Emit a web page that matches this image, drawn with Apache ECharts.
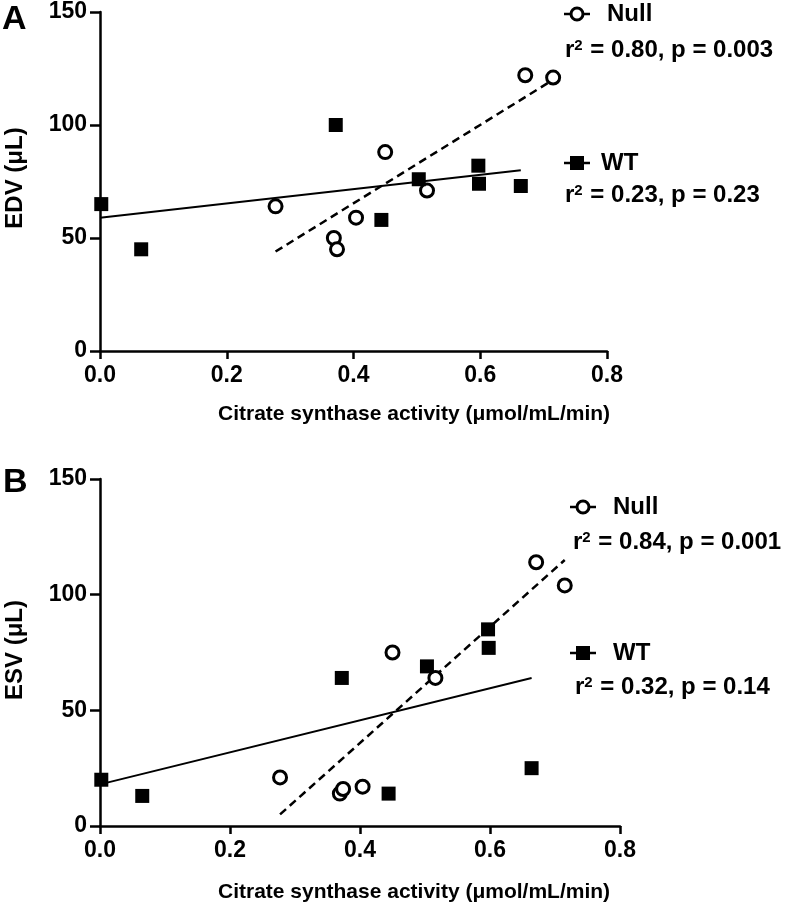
<!DOCTYPE html>
<html>
<head>
<meta charset="utf-8">
<script src="https://cdn.jsdelivr.net/npm/echarts@6/dist/echarts.min.js"></script>
<style>html,body{margin:0;padding:0;background:#fff}#c{width:792px;height:912px}</style>
</head>
<body>
<div id="c"></div>
<script>
// ---- data ----
const xTicks = [0, 0.2, 0.4, 0.6, 0.8];
const yTicks = [0, 50, 100, 150];
const nullX   = [0.277, 0.369, 0.374, 0.404, 0.450, 0.516, 0.671, 0.715];
const nullEDV = [64, 50, 45, 59, 88, 71, 122, 121];
const nullESV = [21, 14, 16, 17, 75, 64, 114, 104];
const wtX     = [0.002, 0.065, 0.372, 0.444, 0.503, 0.597, 0.598, 0.664];
const wtEDV   = [65, 45, 100, 58, 76, 82, 74, 73];
const wtESV   = [20, 13, 64, 14, 69, 85, 77, 25];
const nullFitEDV = [[0.277, 44], [0.715, 120]];
const wtFitEDV   = [[0.0, 59], [0.664, 80]];
const nullFitESV = [[0.277, 5], [0.715, 115]];
const wtFitESV   = [[0.0, 18], [0.664, 64]];
const statsA = { nul: ' = 0.80, p = 0.003', wt: ' = 0.23, p = 0.23' };
const statsB = { nul: ' = 0.84, p = 0.001', wt: ' = 0.32, p = 0.14' };

const FONT = '"Liberation Sans", Arial, sans-serif';
const zip = (xs, ys) => xs.map((x, i) => [x, ys[i]]);

function xAxis(g) {
  return {
    gridIndex: g, type: 'value', min: xTicks[0], max: xTicks[xTicks.length - 1], interval: 0.2,
    axisLine: { show: true, onZero: false, lineStyle: { color: '#000', width: 2.5 } },
    axisTick: { show: true, length: 8, lineStyle: { color: '#000', width: 2.5 } },
    axisLabel: { formatter: v => v.toFixed(1), fontSize: 23, fontWeight: 'bold', color: '#000', fontFamily: FONT, margin: 13 },
    splitLine: { show: false }
  };
}
function yAxis(g) {
  return {
    gridIndex: g, type: 'value', min: yTicks[0], max: yTicks[yTicks.length - 1], interval: 50,
    axisLine: { show: true, lineStyle: { color: '#000', width: 2.5 } },
    axisTick: { show: true, length: 10, lineStyle: { color: '#000', width: 2.5 } },
    axisLabel: { fontSize: 23, fontWeight: 'bold', color: '#000', fontFamily: FONT, margin: 13 },
    splitLine: { show: false }
  };
}
function nullSeries(g, ys) {
  return { type: 'scatter', xAxisIndex: g, yAxisIndex: g, data: zip(nullX, ys), symbol: 'circle', symbolSize: 13, z: 5,
    itemStyle: { color: '#fff', borderColor: '#000', borderWidth: 3, opacity: 1 } };
}
function wtSeries(g, ys) {
  return { type: 'scatter', xAxisIndex: g, yAxisIndex: g, data: zip(wtX, ys), symbol: 'rect', symbolSize: 14, z: 6,
    itemStyle: { color: '#000', opacity: 1 } };
}
function fit(g, pts, dashed) {
  return { type: 'line', xAxisIndex: g, yAxisIndex: g, data: pts, showSymbol: false, symbol: 'none', z: 3, silent: true,
    lineStyle: { color: '#000', width: dashed ? 2.5 : 2, type: dashed ? [8, 5] : 'solid' } };
}
function rich(sz) {
  return {
    r: { fontSize: sz, fontWeight: 'bold', fontFamily: FONT, color: '#000' },
    s: { fontSize: Math.round(sz * 0.62), fontWeight: 'bold', fontFamily: FONT, verticalAlign: 'top', color: '#000', padding: [0, 1, 9, 0] },
    t: { fontSize: sz, fontWeight: 'bold', fontFamily: FONT, color: '#000' }
  };
}
function statText(x, y, t, sz) {
  return { type: 'text', x: x, y: y, style: { text: '{r|r}{s|2}{t|' + t + '}', rich: rich(sz), textVerticalAlign: 'middle', fill: '#000' } };
}
function label(x, y, t, size) {
  return { type: 'text', x: x, y: y, style: { text: t, font: 'bold ' + size + 'px ' + FONT, fill: '#000', textVerticalAlign: 'middle' } };
}
function vlabel(x, y, t, size) {
  return { type: 'text', x: x, y: y, rotation: Math.PI / 2, style: { text: t, font: 'bold ' + size + 'px ' + FONT, fill: '#000', textAlign: 'center', textVerticalAlign: 'middle' } };
}
function legendNull(cx, cy) {
  return { type: 'group', children: [
    { type: 'line', shape: { x1: cx - 13, y1: cy, x2: cx + 13, y2: cy }, style: { stroke: '#000', lineWidth: 2.5 } },
    { type: 'circle', shape: { cx: cx, cy: cy, r: 6 }, style: { fill: '#fff', stroke: '#000', lineWidth: 3 } }
  ] };
}
function legendWT(cx, cy) {
  return { type: 'group', children: [
    { type: 'line', shape: { x1: cx - 13, y1: cy, x2: cx + 13, y2: cy }, style: { stroke: '#000', lineWidth: 2.5 } },
    { type: 'rect', shape: { x: cx - 7, y: cy - 7, width: 14, height: 14 }, style: { fill: '#000' } }
  ] };
}

const chart = echarts.init(document.getElementById('c'), null, { renderer: 'canvas' });
chart.setOption({
  animation: false,
  backgroundColor: '#fff',
  grid: [
    { left: 100, top: 12, width: 507, height: 339 },
    { left: 100, top: 479, width: 520, height: 347 }
  ],
  xAxis: [xAxis(0), xAxis(1)],
  yAxis: [yAxis(0), yAxis(1)],
  series: [
    fit(0, nullFitEDV, true), fit(0, wtFitEDV, false),
    nullSeries(0, nullEDV), wtSeries(0, wtEDV),
    fit(1, nullFitESV, true), fit(1, wtFitESV, false),
    nullSeries(1, nullESV), wtSeries(1, wtESV)
  ],
  graphic: [
    label(2, 20, 'A', 34),
    label(3, 483, 'B', 34),
    vlabel(15, 178, 'EDV (\u03bcL)', 24),
    vlabel(15, 650, 'ESV (\u03bcL)', 24),
    label(218, 414, 'Citrate synthase activity (\u03bcmol/mL/min)', 21),
    label(218, 892, 'Citrate synthase activity (\u03bcmol/mL/min)', 21),
    legendNull(577, 14), label(607, 14, 'Null', 24),
    statText(565, 50, statsA.nul, 24),
    legendWT(577, 163), label(601, 163, 'WT', 24),
    statText(565, 195, statsA.wt, 24),
    legendNull(583, 507), label(613, 507, 'Null', 24),
    statText(573, 542, statsB.nul, 24),
    legendWT(583, 653), label(613, 653, 'WT', 24),
    statText(575, 687, statsB.wt, 24)
  ]
});
</script>
</body>
</html>
